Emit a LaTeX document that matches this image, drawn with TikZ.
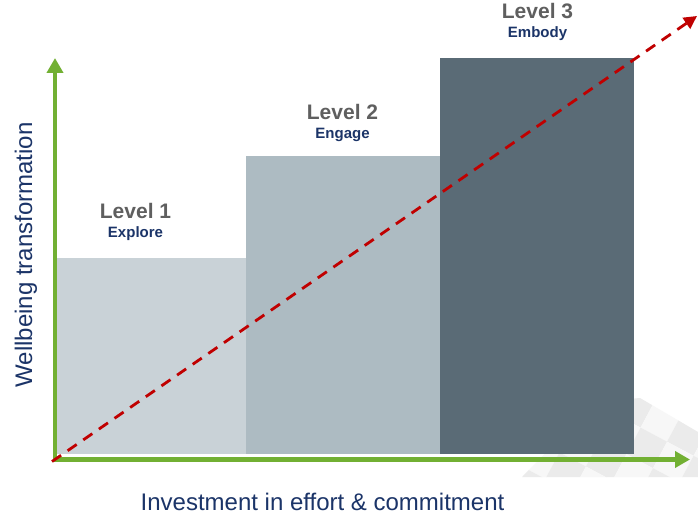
\documentclass[tikz,border=0pt]{standalone}
\usepackage{fontspec}
\setmainfont{Liberation Sans}
\usetikzlibrary{arrows.meta}
\definecolor{axisgreen}{HTML}{72B033}
\definecolor{trendred}{HTML}{C00000}
\definecolor{barone}{HTML}{C9D2D7}
\definecolor{bartwo}{HTML}{ADBBC2}
\definecolor{barthree}{HTML}{5A6B76}
\definecolor{levelgrey}{HTML}{5F5F5F}
\definecolor{navy}{HTML}{1B3468}
\tikzset{
  axis/.style={draw=axisgreen, line width=4.5pt, -{Triangle[length=15pt,width=16pt]}},
  trend/.style={draw=trendred, line width=2.8pt, dash pattern=on 11pt off 8pt,
    -{Triangle[length=13pt,width=13pt]}},
  leveltitle/.style={font=\bfseries\fontsize{21}{23}\selectfont, text=levelgrey, inner sep=0pt, anchor=base},
  levelsub/.style={font=\bfseries\fontsize{15}{17}\selectfont, text=navy, inner sep=0pt, anchor=base},
  axislabel/.style={font=\fontsize{24}{26}\selectfont, text=navy, inner sep=0pt, anchor=base},
}
\begin{document}
\begin{tikzpicture}[x=1pt,y=-1pt]
\useasboundingbox (0,0) rectangle (698,518);
\fill[white] (0,0) rectangle (698,518);

% faint checkered backdrop, lower right
\begin{scope}
  \clip (522,477) -- (596,402) -- (640,398) -- (698,432) -- (698,477) -- cycle;
  \begin{scope}[shift={(600,440)}, rotate=-28]
    \foreach \i in {-5,...,5}{
      \foreach \j in {-4,...,4}{
        \pgfmathtruncatemacro{\cellparity}{mod(\i+\j+20,2)}
        \ifnum\cellparity=0
          \fill[black!8] (\i*30,\j*30) rectangle ++(30,30);
        \else
          \fill[black!3] (\i*30,\j*30) rectangle ++(30,30);
        \fi
      }
    }
  \end{scope}
\end{scope}

% level bars
\fill[barone]   (57,258) rectangle (246,454);
\fill[bartwo]   (246,156) rectangle (440,454);
\fill[barthree] (440,58)  rectangle (634,454);

% axes
\coordinate (origin) at (55,459.5);
\coordinate (ytip) at (55,58);
\coordinate (xtip) at (690,459.5);
\coordinate (tstart) at (52,461.5);
\coordinate (ttip) at (697,16);
\draw[axis] ([yshift=2.2pt]origin) -- (ytip);
\draw[axis] ([xshift=-2.2pt]origin) -- (xtip);

% trend line
\draw[trend] (tstart) -- (ttip);

% level labels
\node[leveltitle] (l1) at (135.5,219) {Level 1};
\node[levelsub]   (e1) at (135.5,238) {Explore};
\node[leveltitle] (l2) at (342.5,120) {Level 2};
\node[levelsub]   (e2) at (342.5,139) {Engage};
\node[leveltitle] (l3) at (537.5,18.5) {Level 3};
\node[levelsub]   (e3) at (537.5,38)  {Embody};

% axis titles
\node[axislabel, rotate=90] (ylab) at (32,255) {Wellbeing transformation};
\node[axislabel] (xlab) at (322.5,510) {Investment in effort \& commitment};
\end{tikzpicture}
\end{document}
